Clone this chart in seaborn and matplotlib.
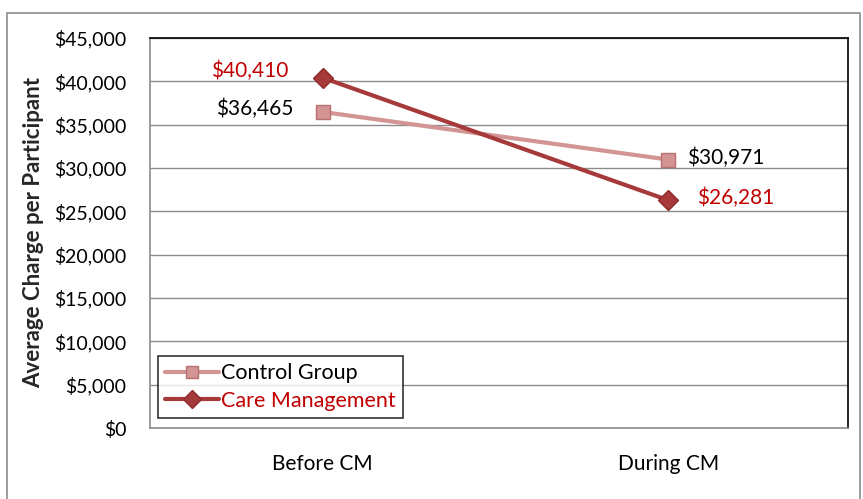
import matplotlib
matplotlib.use("Agg")
import matplotlib.pyplot as plt
import matplotlib.ticker as mticker
from matplotlib.patches import Rectangle
from matplotlib.lines import Line2D
import seaborn as sns
import pandas as pd

periods = ["Before CM", "During CM"]
control_group = [36465, 30971]
care_management = [40410, 26281]
series_names = ["Control Group", "Care Management"]

sns.set_theme(style="white")
plt.rcParams["font.family"] = ["Lato", "DejaVu Sans"]

df = pd.DataFrame({
    "Period": periods * 2,
    "Charge": control_group + care_management,
    "Series": [series_names[0]] * 2 + [series_names[1]] * 2,
})

colors = {"Control Group": "#D39494", "Care Management": "#A63A3A"}
edge = {"Control Group": "#B87070", "Care Management": "#8E2A2A"}
label_colors = {"Control Group": "#000000", "Care Management": "#C00000"}
markers = {"Control Group": "s", "Care Management": "D"}

fig = plt.figure(figsize=(8.63, 4.99), dpi=100)
ax = fig.add_axes([150 / 863, 1 - 428 / 499, 698 / 863, 390 / 499])

fig.patches.append(Rectangle((7 / 863, -5 / 499), 853 / 863, 491 / 499,
                             transform=fig.transFigure, fill=False,
                             edgecolor="#8C8C8C", linewidth=1.2))

sns.lineplot(data=df, x="Period", y="Charge", hue="Series", style="Series",
             palette=colors, markers=markers, dashes=False, linewidth=3,
             markersize=10, ax=ax, legend=False, sort=False)
for line, name in zip(ax.lines, series_names):
    line.set_markeredgecolor(edge[name])
    line.set_markeredgewidth(1)

ax.set_xlim(-0.5, 1.52)
ax.set_ylim(0, 45000)
ax.yaxis.set_major_locator(mticker.MultipleLocator(5000))
ax.yaxis.set_major_formatter(mticker.FuncFormatter(lambda v, p: f"${v:,.0f}"))
ax.grid(axis="y", color="#8C8C8C", linewidth=1)
ax.set_axisbelow(True)

for s in ["top", "right"]:
    ax.spines[s].set_color("black")
    ax.spines[s].set_linewidth(1.2)
for s in ["left", "bottom"]:
    ax.spines[s].set_color("#8C8C8C")
    ax.spines[s].set_linewidth(1.2)

ax.set_xticks([0, 1])
ax.set_xticklabels(periods)
ax.tick_params(axis="x", length=0, labelsize=15, pad=19, colors="black")
ax.set_xticks([-0.5, 0.5, 1.52], minor=True)
ax.tick_params(axis="x", which="minor", length=6, color="#8C8C8C", width=1)
ax.tick_params(axis="y", length=5, color="#8C8C8C", width=1, labelsize=14, colors="black", pad=12)
ax.set_xlabel("")
ax.set_ylabel("Average Charge per Participant", fontsize=16, fontweight="bold", labelpad=7)

# data labels
offsets_control = [(-21.5, 2.5, "right"), (13.5, 1, "left")]
offsets_cm = [(-24.5, 5, "right"), (21, 1.5, "left")]
for i, v in enumerate(control_group):
    dx, dy, ha = offsets_control[i]
    ax.annotate(f"${v:,}", (i, v), xytext=(dx, dy), textcoords="offset points",
                ha=ha, va="center", fontsize=15, color=label_colors["Control Group"])
for i, v in enumerate(care_management):
    dx, dy, ha = offsets_cm[i]
    ax.annotate(f"${v:,}", (i, v), xytext=(dx, dy), textcoords="offset points",
                ha=ha, va="center", fontsize=15, color=label_colors["Care Management"])

handles = [Line2D([], [], color=colors[n], marker=markers[n], markersize=9,
                  markeredgecolor=edge[n], linewidth=3) for n in series_names]
leg = ax.legend(handles, series_names, loc="lower left", bbox_to_anchor=(0.011, 0.025),
                fontsize=15.5, frameon=True, fancybox=False, edgecolor="black",
                handlelength=2.5, handletextpad=0.1, borderpad=0.35, labelspacing=0.35,
                borderaxespad=0)
leg.get_frame().set_linewidth(1.2)
for t, n in zip(leg.get_texts(), series_names):
    t.set_color(label_colors[n])

fig.savefig("out.png", dpi=100)
